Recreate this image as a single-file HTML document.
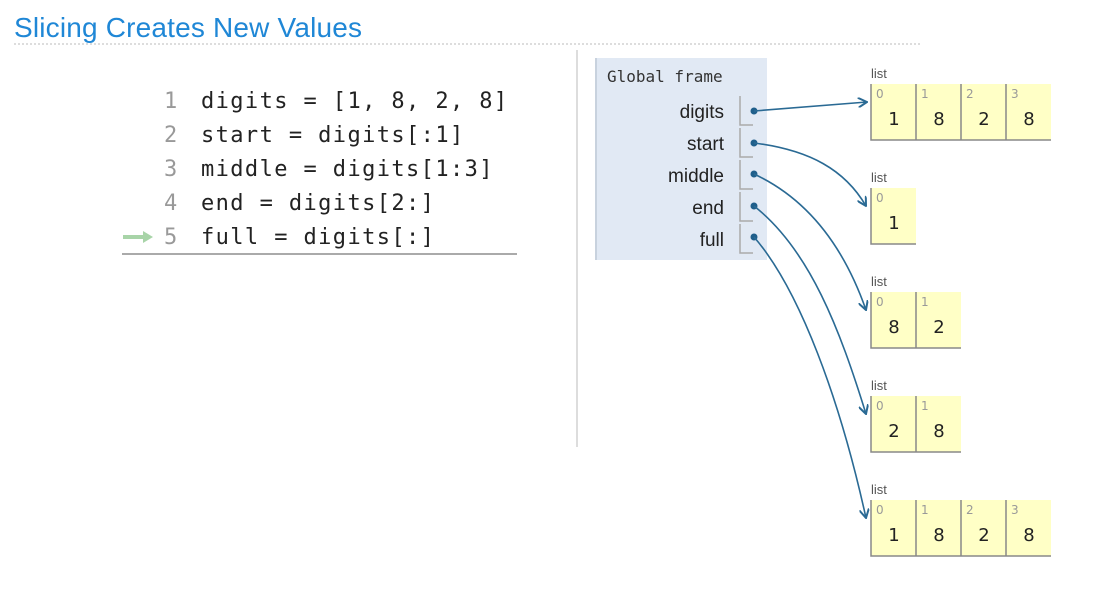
<!DOCTYPE html>
<html><head><meta charset="utf-8"><style>
body{margin:0;background:#fff;width:1119px;height:591px;overflow:hidden;font-family:"Liberation Sans",sans-serif}
svg{position:absolute;left:0;top:0}
</style></head><body>
<svg width="1119" height="591" xmlns="http://www.w3.org/2000/svg">
<text x="14" y="37" font-size="28" fill="#1f87d6" font-family="Liberation Sans, sans-serif" textLength="348">Slicing Creates New Values</text>
<line x1="14" y1="44" x2="920" y2="44" stroke="#bbb" stroke-dasharray="2,2"/>
<line x1="577" y1="50" x2="577" y2="447" stroke="#ddd" stroke-width="2"/>
<g font-family="DejaVu Sans Mono, monospace" font-size="22" letter-spacing="1.4">
<g fill="#999"><text x="164" y="108">1</text><text x="164" y="142">2</text><text x="164" y="176">3</text><text x="164" y="210">4</text><text x="164" y="244">5</text></g>
<g fill="#222"><text x="201" y="108">digits = [1, 8, 2, 8]</text><text x="201" y="142">start = digits[:1]</text><text x="201" y="176">middle = digits[1:3]</text><text x="201" y="210">end = digits[2:]</text><text x="201" y="244">full = digits[:]</text></g>
</g>
<path d="M123 237 H145" stroke="#a8d4a8" stroke-width="4"/><path d="M143 231 L153 237 L143 243Z" fill="#a8d4a8"/>
<line x1="122" y1="254" x2="517" y2="254" stroke="#aaa" stroke-width="2"/>
<rect x="596" y="58" width="171" height="202" fill="#e1e9f4"/>
<line x1="596" y1="58" x2="596" y2="260" stroke="#c8d2de" stroke-width="2"/>
<text x="607" y="82" font-family="DejaVu Sans Mono, monospace" font-size="16" fill="#333">Global frame</text>
<g font-size="19" fill="#222" text-anchor="end">
<text x="724" y="118">digits</text><text x="724" y="150">start</text><text x="724" y="182">middle</text><text x="724" y="214">end</text><text x="724" y="246">full</text></g>
<g stroke="#aaa" stroke-width="1.5" fill="none">
<path d="M740 96 V125 H753"/><path d="M740 128 V157 H753"/><path d="M740 160 V189 H753"/><path d="M740 192 V221 H753"/><path d="M740 224 V253 H753"/></g>
<g fill="#1f5f8b"><circle cx="754" cy="111" r="3.5"/><circle cx="754" cy="143" r="3.5"/><circle cx="754" cy="174" r="3.5"/><circle cx="754" cy="206" r="3.5"/><circle cx="754" cy="237" r="3.5"/></g>
<defs><marker id="a" markerWidth="10" markerHeight="10" refX="9" refY="5" orient="auto" markerUnits="userSpaceOnUse"><path d="M0 0 L9 5 L0 10" fill="none" stroke="#2a6a94" stroke-width="2"/></marker></defs>
<g stroke="#2a6a94" stroke-width="1.6" fill="none" marker-end="url(#a)">
<path d="M754 111 L867 102"/>
<path d="M754 143 C810 150 845 170 866 206"/>
<path d="M754 174 C810 200 845 250 866 310"/>
<path d="M754 206 C810 250 840 330 866 414"/>
<path d="M754 237 C800 290 840 400 866 518"/>
</g>
<g font-size="13" fill="#555"><text x="871" y="78">list</text><text x="871" y="182">list</text><text x="871" y="286">list</text><text x="871" y="390">list</text><text x="871" y="494">list</text></g>
<g font-family="DejaVu Sans, sans-serif">
<rect x="871" y="84" width="180" height="56" fill="#ffffc6"/>
<rect x="871" y="188" width="45" height="56" fill="#ffffc6"/>
<rect x="871" y="292" width="90" height="56" fill="#ffffc6"/>
<rect x="871" y="396" width="90" height="56" fill="#ffffc6"/>
<rect x="871" y="500" width="180" height="56" fill="#ffffc6"/>
<g stroke="#888" stroke-width="1.5" fill="none">
<path d="M871 84 V140 H1051 M916 84 V140 M961 84 V140 M1006 84 V140"/>
<path d="M871 188 V244 H916"/>
<path d="M871 292 V348 H961 M916 292 V348"/>
<path d="M871 396 V452 H961 M916 396 V452"/>
<path d="M871 500 V556 H1051 M916 500 V556 M961 500 V556 M1006 500 V556"/>
</g>
<g font-size="12" fill="#999">
<text x="876" y="98">0</text><text x="921" y="98">1</text><text x="966" y="98">2</text><text x="1011" y="98">3</text>
<text x="876" y="202">0</text>
<text x="876" y="306">0</text><text x="921" y="306">1</text>
<text x="876" y="410">0</text><text x="921" y="410">1</text>
<text x="876" y="514">0</text><text x="921" y="514">1</text><text x="966" y="514">2</text><text x="1011" y="514">3</text>
</g>
<g font-size="18" fill="#222" text-anchor="middle">
<text x="894" y="125">1</text><text x="939" y="125">8</text><text x="984" y="125">2</text><text x="1029" y="125">8</text>
<text x="894" y="229">1</text>
<text x="894" y="333">8</text><text x="939" y="333">2</text>
<text x="894" y="437">2</text><text x="939" y="437">8</text>
<text x="894" y="541">1</text><text x="939" y="541">8</text><text x="984" y="541">2</text><text x="1029" y="541">8</text>
</g></g>
</svg>
</body></html>
